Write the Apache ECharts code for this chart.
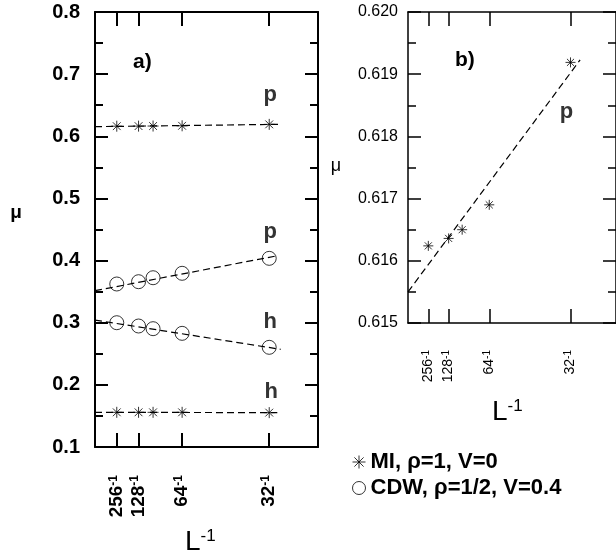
<!DOCTYPE html>
<html>
<head>
<meta charset="utf-8">
<script src="https://cdn.jsdelivr.net/npm/echarts@6/dist/echarts.min.js"></script>
<style>
  html, body { margin: 0; padding: 0; background: #fff; }
  #wrap { position: relative; width: 616px; height: 559px; }
  #frame, #chart { position: absolute; left: 0; top: 0; width: 616px; height: 559px; }
</style>
</head>
<body>
<div id="wrap"><div id="frame"></div><div id="chart"></div></div>
<script>
// System sizes L; the abscissa is 1/L
const sizes = [256, 128, 96, 64, 32];
const tickSizes = [256, 128, 64, 32];

// Chemical potentials μ(L): particle (p) and hole (h) branches
const miParticle = [0.61624, 0.61636, 0.61650, 0.61690, 0.61919];
const miHole = [0.1558, 0.1558, 0.1558, 0.1558, 0.1553];
const cdwParticle = [0.3623, 0.3660, 0.3724, 0.3795, 0.4036];
const cdwHole = [0.3000, 0.2947, 0.2904, 0.2829, 0.2604];

// Linear extrapolations towards 1/L -> 0, as [1/L, μ] end points
const fitMiParticle = [[0, 0.6155], [0.0331, 0.61923]];
const fitMiHole = [[0, 0.1558], [0.0327, 0.1553]];
const fitCdwParticle = [[0, 0.3515], [0.0327, 0.4078]];
const fitCdwHole = [[0, 0.3043], [0.0333, 0.2572]];

const MI_NAME = 'MI, ρ=1, V=0';
const CDW_NAME = 'CDW, ρ=1/2, V=0.4';

const FONT = '"Liberation Sans", Arial, Helvetica, sans-serif';
const STAR = 'path://M0,-10L0,10M-10,0L10,0M-7.07,-7.07L7.07,7.07M-7.07,7.07L7.07,-7.07';
const tickValues = tickSizes.map(n => 1 / n);

const GRIDS = [
  { left: 95, top: 12, width: 223, height: 435 },
  { left: 408, top: 12, width: 210, height: 311 }
];

// Two layers share the same grids and scales: 'frame' draws the axis
// lines and inward ticks, 'labels' carries tick labels and the data.
function xAxes(part, gridIndex, lw, numFont, supFont, bold, margin) {
  const frame = part === 'frame';
  const base = {
    gridIndex, type: 'value', min: 0, max: 0.04,
    splitLine: { show: false },
    axisLine: { show: frame, onZero: false, lineStyle: { color: '#000', width: lw } },
    axisTick: { show: frame, inside: true, length: 14, customValues: tickValues,
                lineStyle: { color: '#000', width: lw } }
  };
  return [
    Object.assign({}, base, {
      position: 'bottom',
      axisLabel: frame ? { show: false } : {
        show: true, customValues: tickValues, rotate: 90, margin: margin,
        formatter: v => '{n|' + Math.round(1 / v) + '}{s|-1}',
        rich: {
          n: { fontSize: numFont, fontWeight: bold ? 'bold' : 'normal', color: '#000' },
          s: { fontSize: supFont, fontWeight: bold ? 'bold' : 'normal', color: '#000', verticalAlign: 'top' }
        }
      }
    }),
    Object.assign({}, base, { position: 'top', axisLabel: { show: false } })
  ];
}

function yAxes(part, gridIndex, min, max, interval, lw, labelCfg) {
  const frame = part === 'frame';
  const base = {
    gridIndex, type: 'value', min, max, interval,
    splitLine: { show: false },
    axisLine: { show: frame, onZero: false, lineStyle: { color: '#000', width: lw } },
    axisTick: { show: frame, inside: true, length: 13, lineStyle: { color: '#000', width: lw } },
    minorTick: { show: frame, splitNumber: 2, length: 8, lineStyle: { color: '#000', width: lw } }
  };
  return [
    Object.assign({}, base, { position: 'left', axisLabel: frame ? { show: false } : labelCfg }),
    Object.assign({}, base, { position: 'right', axisLabel: { show: false } })
  ];
}

function allX(part) {
  return [].concat(xAxes(part, 0, 2, 19, 12, true, 28), xAxes(part, 1, 1.5, 14, 10, false, 27));
}
function allY(part) {
  return [].concat(
    yAxes(part, 0, 0.1, 0.8, 0.1, 2, {
      show: true, margin: 15, fontSize: 20, fontWeight: 'bold', color: '#000',
      formatter: v => v.toFixed(1)
    }),
    yAxes(part, 1, 0.615, 0.620, 0.001, 1.5, {
      show: true, margin: 10, fontSize: 16, color: '#000',
      formatter: v => v.toFixed(3)
    })
  );
}

function points(values, tag, offset) {
  return values.map((v, i) => {
    const item = { value: [1 / sizes[i], v] };
    if (i === values.length - 1) {
      item.label = {
        show: true, formatter: tag, position: 'inside', offset: offset,
        fontSize: 22, fontWeight: 'bold', color: '#000', fontFamily: FONT
      };
    }
    return item;
  });
}

const dashed = { color: '#000', width: 1.2, type: [7, 4] };
const starStyle = { color: 'none', borderColor: '#000', borderWidth: 1 };
const circleStyle = { color: 'none', borderColor: '#000', borderWidth: 1 };

function fitLine(data, x, y) {
  return { type: 'line', xAxisIndex: x, yAxisIndex: y, data: data, symbol: 'none', lineStyle: dashed };
}

// Axis frame layer
const frameChart = echarts.init(document.getElementById('frame'));
frameChart.setOption({
  animation: false,
  backgroundColor: '#fff',
  grid: GRIDS,
  xAxis: allX('frame'),
  yAxis: allY('frame')
});

// Data, labels and legend layer
const chart = echarts.init(document.getElementById('chart'));
chart.setOption({
  animation: false,
  backgroundColor: 'transparent',
  textStyle: { fontFamily: FONT },
  grid: GRIDS,
  xAxis: allX('labels'),
  yAxis: allY('labels'),
  legend: {
    left: 350, top: 451, orient: 'vertical', padding: 0,
    itemWidth: 13, itemHeight: 13, itemGap: 4,
    textStyle: { fontSize: 22, fontWeight: 'bold', color: '#000' },
    data: [
      { name: MI_NAME, icon: STAR, itemStyle: starStyle },
      { name: CDW_NAME, icon: 'circle', itemStyle: circleStyle }
    ]
  },
  series: [
    fitLine(fitMiParticle, 0, 0),
    fitLine(fitMiHole, 0, 0),
    fitLine(fitCdwParticle, 0, 0),
    fitLine(fitCdwHole, 0, 0),
    fitLine(fitMiParticle, 2, 2),
    { name: MI_NAME, type: 'scatter', xAxisIndex: 0, yAxisIndex: 0, symbol: STAR, symbolSize: 11,
      itemStyle: starStyle, data: points(miParticle, 'p', [1, -29]) },
    { name: MI_NAME, type: 'scatter', xAxisIndex: 0, yAxisIndex: 0, symbol: STAR, symbolSize: 11,
      itemStyle: starStyle, data: points(miHole, 'h', [2, -21]) },
    { name: CDW_NAME, type: 'scatter', xAxisIndex: 0, yAxisIndex: 0, symbol: 'circle', symbolSize: 14,
      itemStyle: circleStyle, data: points(cdwParticle, 'p', [1, -26]) },
    { name: CDW_NAME, type: 'scatter', xAxisIndex: 0, yAxisIndex: 0, symbol: 'circle', symbolSize: 14,
      itemStyle: circleStyle, data: points(cdwHole, 'h', [1, -25]) },
    { name: MI_NAME, type: 'scatter', xAxisIndex: 2, yAxisIndex: 2, symbol: STAR, symbolSize: 10,
      itemStyle: starStyle, data: points(miParticle, 'p', [-4, 50]) }
  ],
  graphic: [
    { type: 'text', x: 133, y: 62, style: { text: 'a)', font: 'bold 21px ' + FONT, fill: '#000', textAlign: 'left', textVerticalAlign: 'middle' } },
    { type: 'text', x: 455, y: 60, style: { text: 'b)', font: 'bold 21px ' + FONT, fill: '#000', textAlign: 'left', textVerticalAlign: 'middle' } },
    { type: 'text', x: 16, y: 213, style: { text: 'μ', font: 'bold 19px ' + FONT, fill: '#000', textAlign: 'center', textVerticalAlign: 'middle' } },
    { type: 'text', x: 336, y: 166, style: { text: 'μ', font: '18px ' + FONT, fill: '#000', textAlign: 'center', textVerticalAlign: 'middle' } },
    { type: 'text', x: 185, y: 542, style: {
        text: '{L|L}{s|-1}', textAlign: 'left', textVerticalAlign: 'middle',
        rich: { L: { fontSize: 28, fontFamily: FONT, fill: '#000' },
                s: { fontSize: 17, fontFamily: FONT, fill: '#000', verticalAlign: 'top' } } } },
    { type: 'text', x: 492, y: 412, style: {
        text: '{L|L}{s|-1}', textAlign: 'left', textVerticalAlign: 'middle',
        rich: { L: { fontSize: 28, fontFamily: FONT, fill: '#000' },
                s: { fontSize: 17, fontFamily: FONT, fill: '#000', verticalAlign: 'top' } } } }
  ]
});
</script>
</body>
</html>
